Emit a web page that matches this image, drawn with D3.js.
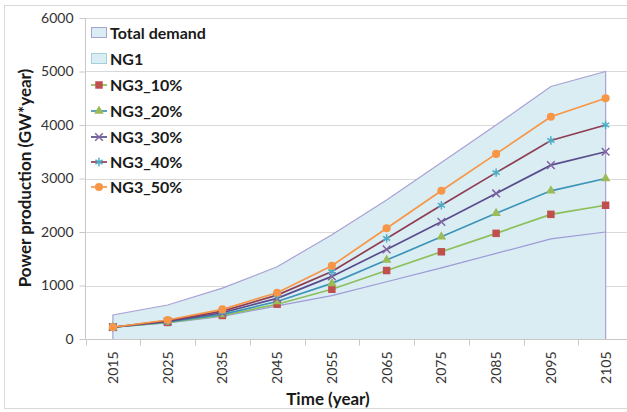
<!DOCTYPE html>
<html><head><meta charset="utf-8">
<script src="https://cdn.jsdelivr.net/npm/d3@7"></script>
<style>body{margin:0;background:#fff;}svg{display:block;font-family:Lato,"Open Sans",sans-serif;}</style>
</head><body>
<svg id="c" width="627" height="412"></svg>
<script>
const years = ["2015","2025","2035","2045","2055","2065","2075","2085","2095","2105"];
const totalDemand = [450, 635, 950, 1350, 1950, 2600, 3300, 4000, 4720, 5000];
const ng1 = [220, 300, 420, 620, 810, 1070, 1330, 1600, 1870, 2000];
const ng3_10 = [220, 310, 440, 650, 930, 1280, 1630, 1975, 2330, 2500];
const ng3_20 = [220, 320, 460, 700, 1040, 1475, 1910, 2350, 2770, 3000];
const ng3_30 = [220, 330, 490, 760, 1170, 1675, 2190, 2720, 3250, 3500];
const ng3_40 = [220, 345, 520, 820, 1260, 1880, 2500, 3110, 3710, 4000];
const ng3_50 = [220, 355, 555, 865, 1370, 2070, 2770, 3460, 4155, 4500];
const yTicks = [0, 1000, 2000, 3000, 4000, 5000, 6000];

const lineSeries = [
  {name:"NG3_10%", values:ng3_10, line:"#8cbf5a", mark:"#c0504d", shape:"square"},
  {name:"NG3_20%", values:ng3_20, line:"#3d94b8", mark:"#9bbb59", shape:"triangle"},
  {name:"NG3_30%", values:ng3_30, line:"#594c8c", mark:"#8064a2", shape:"x"},
  {name:"NG3_40%", values:ng3_40, line:"#8e3d55", mark:"#4bacc6", shape:"star"},
  {name:"NG3_50%", values:ng3_50, line:"#f79646", mark:"#f79646", shape:"circle"}
];

const svg = d3.select("#c");
const fillCol = "#daedf3";
const areaStroke = "#a9a2d4";

// outer frame
svg.append("rect").attr("x",4.5).attr("y",5.5).attr("width",640).attr("height",403)
  .attr("fill","none").attr("stroke","#d9d9d9");

const x = d3.scaleBand().domain(years).range([85.5, 633]).padding(0);
const y = d3.scaleLinear().domain([0, 6000]).range([339, 18]);
const cx = d => x(d) + x.bandwidth()/2;

// gridlines
svg.append("g").selectAll("line").data(yTicks.filter(t=>t>0)).join("line")
  .attr("x1",85.5).attr("x2",627).attr("y1",d=>Math.round(y(d))+0.5).attr("y2",d=>Math.round(y(d))+0.5)
  .attr("stroke","#d9d9d9").attr("stroke-width",1.2);

// areas
const area = vals => d3.area().x((d,i)=>cx(years[i])).y0(y(0)).y1(d=>y(d))(vals);
const lineGen = d3.line().x((d,i)=>cx(years[i])).y(d=>y(d));
const outline = vals => {
  const pts = vals.map((v,i)=>[cx(years[i]), y(v)]);
  return d3.line()([[cx(years[0]), y(0)], ...pts, [cx(years[years.length-1]), y(0)]]);
};
svg.append("path").attr("d", area(totalDemand)).attr("fill", fillCol);
svg.append("path").attr("d", area(ng1)).attr("fill", fillCol);
svg.append("path").attr("d", outline(totalDemand)).attr("fill","none").attr("stroke",areaStroke).attr("stroke-width",1.2);
svg.append("path").attr("d", lineGen(ng1)).attr("fill","none").attr("stroke","#9d9ad6").attr("stroke-width",1.2);

// axes
const yAxis = d3.axisLeft(y).tickValues(yTicks).tickFormat(d3.format("d")).tickSize(6).tickPadding(6);
const gy = svg.append("g").attr("transform","translate(85.5,0)").call(yAxis);
gy.select(".domain").attr("stroke","#c8c8c8").attr("d","M0,18V339");
gy.selectAll(".tick line").attr("stroke","#c8c8c8");
gy.selectAll("text").attr("font-size",14).attr("fill","#333").attr("font-family","Lato,'Open Sans',sans-serif");

const gx = svg.append("g").attr("transform","translate(0,339.5)");
gx.append("line").attr("x1",85.5).attr("x2",627).attr("stroke","#c8c8c8");
const bounds = years.map(d=>x(d)).concat([x(years[years.length-1])+x.bandwidth()]);
gx.selectAll("line.tk").data(bounds.filter(b=>b<627)).join("line").attr("class","tk")
  .attr("x1",d=>Math.round(d)+0.5).attr("x2",d=>Math.round(d)+0.5).attr("y1",0).attr("y2",6).attr("stroke","#c8c8c8");
gx.selectAll("text").data(years).join("text")
  .attr("transform",d=>`translate(${cx(d)+5},${12}) rotate(-90)`)
  .attr("text-anchor","end").attr("font-size",14).attr("fill","#333").text(d=>d);

// lines + markers
const symbolFor = s => ({square:d3.symbolSquare, triangle:d3.symbolTriangle, x:d3.symbolX, star:d3.symbolAsterisk, circle:d3.symbolCircle}[s]);
const sizeFor = s => ({square:56, triangle:40, x:40, star:48, circle:52}[s]);
function drawMarker(g, s, col, tx, ty){
  const path = d3.symbol().type(symbolFor(s)).size(sizeFor(s))();
  const m = g.append("path").attr("d", path).attr("transform",`translate(${tx},${ty})`);
  if (s==="x" || s==="star") m.attr("fill","none").attr("stroke",col).attr("stroke-width",1.5);
  else m.attr("fill",col);
}
lineSeries.forEach(s=>{
  svg.append("path").attr("d", lineGen(s.values)).attr("fill","none").attr("stroke",s.line).attr("stroke-width",1.7);
});
lineSeries.forEach(s=>{
  const g = svg.append("g");
  s.values.forEach((v,i)=>drawMarker(g, s.shape, s.mark, cx(years[i]), y(v)));
});

// legend
const leg = svg.append("g");
const rows = [33, 59, 85, 111, 137, 162, 187];
[["Total demand", areaStroke],["NG1","#a4d0dc"]].forEach((d,i)=>{
  leg.append("rect").attr("x",91.5).attr("y",rows[i]-5.5).attr("width",15).attr("height",10)
    .attr("fill",fillCol).attr("stroke",d[1]);
  leg.append("text").attr("x",110).attr("y",rows[i]+5.5).attr("font-size",16).attr("font-weight","bold").attr("fill","#1a1a1a").text(d[0]);
});
lineSeries.forEach((s,i)=>{
  const ry = rows[i+2];
  leg.append("line").attr("x1",91).attr("x2",107).attr("y1",ry).attr("y2",ry).attr("stroke",s.line).attr("stroke-width",1.7);
  const g = leg.append("g");
  drawMarker(g, s.shape, s.mark, 99, ry);
  leg.append("text").attr("x",110).attr("y",ry+5.5).attr("font-size",16).attr("font-weight","bold").attr("fill","#1a1a1a").text(s.name);
});

// axis titles
svg.append("text").attr("transform","translate(31,178) rotate(-90)").attr("text-anchor","middle")
  .attr("font-size",17).attr("font-weight","bold").attr("fill","#1a1a1a").text("Power production (GW*year)");
svg.append("text").attr("x",328).attr("y",405).attr("text-anchor","middle")
  .attr("font-size",17).attr("font-weight","bold").attr("fill","#1a1a1a").text("Time (year)");
</script>
</body></html>
